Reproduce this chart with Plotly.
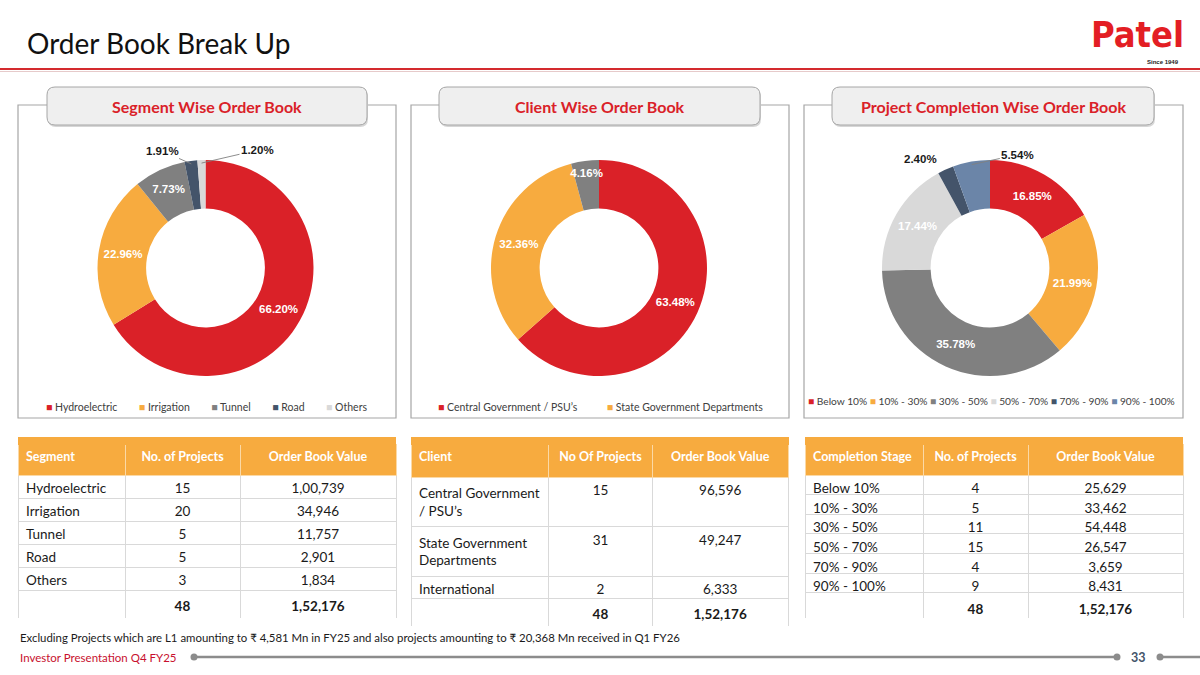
import math
import plotly.graph_objects as go

W, H = 1200, 675


def px(x):
    return x / W


def py(y):
    return 1 - y / H


# ---------------- data ----------------
seg_labels = ["Hydroelectric", "Irrigation", "Tunnel", "Road", "Others"]
seg_share = [66.20, 22.96, 7.73, 1.91, 1.20]
seg_projects = [15, 20, 5, 5, 3]
seg_value = [100739, 34946, 11757, 2901, 1834]
seg_total = [48, 152176]

client_labels = ["Central Government / PSU’s", "State Government Departments", "International"]
client_table_labels = ["Central Government<br>/ PSU’s", "State Government<br>Departments", "International"]
client_share = [63.48, 32.36, 4.16]
client_projects = [15, 31, 2]
client_value = [96596, 49247, 6333]
client_total = [48, 152176]

comp_labels = ["Below 10%", "10% - 30%", "30% - 50%", "50% - 70%", "70% - 90%", "90% - 100%"]
comp_share = [16.85, 21.99, 35.78, 17.44, 2.40, 5.54]
comp_projects = [4, 5, 11, 15, 4, 9]
comp_value = [25629, 33462, 54448, 26547, 3659, 8431]
comp_total = [48, 152176]

# ---------------- styles ----------------
RED = "#DA2128"
ORANGE = "#F7AB3F"
GREY = "#808080"
NAVY = "#44546A"
LGREY = "#D9D9D9"
SLATE = "#6B85A8"
FONT = "Lato, 'Open Sans', sans-serif"
LBL_FONT = "'Liberation Sans', Arial, sans-serif"

seg_colors = [RED, ORANGE, GREY, NAVY, LGREY]
client_colors = [RED, ORANGE, GREY]
comp_colors = [RED, ORANGE, GREY, LGREY, NAVY, SLATE]


def inr(n):
    s = str(n)
    if len(s) <= 3:
        return s
    last3, rest = s[-3:], s[:-3]
    groups = []
    while len(rest) > 2:
        groups.insert(0, rest[-2:])
        rest = rest[:-2]
    if rest:
        groups.insert(0, rest)
    return ",".join(groups + [last3])


fig = go.Figure()
shapes = []
annotations = []

CY0, CY1 = 160, 376
CY = (CY0 + CY1) / 2
R = 108


def donut(labels, share, colors, positions, cx):
    return go.Pie(
        labels=labels, values=share, hole=0.55, sort=False,
        direction="clockwise", rotation=0,
        marker=dict(colors=colors, line=dict(width=0)),
        texttemplate="%{percent:.2%}", textposition=positions,
        insidetextorientation="horizontal",
        insidetextfont=dict(family=LBL_FONT, size=11.5, color="white", weight="bold"),
        outsidetextfont=dict(family=LBL_FONT, size=11.5, color="#1a1a1a", weight="bold"),
        domain=dict(x=[px(cx - R), px(cx + R)], y=[py(CY1), py(CY0)]),
        showlegend=False, hoverinfo="label+percent",
    )


def outside_labels(share, cx, offsets):
    """Labels for thin slices, anchored on the slice's mid-angle computed from the data."""
    total = sum(share)
    cum = 0.0
    for i, s in enumerate(share):
        mid = (cum + s / 2) / total * 2 * math.pi
        cum += s
        if i not in offsets:
            continue
        dx, dy, leader = offsets[i]
        r = R - 3
        x = cx + r * math.sin(mid)
        y = CY - r * math.cos(mid)
        annotations.append(dict(
            x=px(x), y=py(y), xref="paper", yref="paper",
            text=f"{s / total * 100:.2f}%", showarrow=True, arrowhead=0,
            arrowwidth=0.9, standoff=0,
            arrowcolor="#808080" if leader else "rgba(0,0,0,0)",
            ax=dx, ay=dy,
            font=dict(family=LBL_FONT, size=11.5, color="#1a1a1a", weight="bold")))


fig.add_trace(donut(seg_labels, seg_share, seg_colors,
                    ["inside", "inside", "inside", "none", "none"], 205.5))
fig.add_trace(donut(client_labels, client_share, client_colors,
                    ["inside", "inside", "inside"], 599))
fig.add_trace(donut(comp_labels, comp_share, comp_colors,
                    ["inside"] * 4 + ["none", "none"], 990))

outside_labels(seg_share, 205.5, {3: (-29, -13, True), 4: (56, -13, True)})
outside_labels(comp_share, 990, {4: (-26, -13, False), 5: (46, -10, True)})

# ---------------- tables ----------------
BODY = dict(family=FONT, size=13.5, color="#1a1a1a")
HEAD = dict(family=FONT, size=12.5, color="white", weight="bold")


def table(x0, x1, bottom, widths, head, col1, projects, values, total, head_h, cell_h):
    c2 = [str(p) for p in projects] + [f"<b>{total[0]}</b>"]
    c3 = [inr(v) for v in values] + [f"<b>{inr(total[1])}</b>"]
    # top strip of the orange header band (text in the table header sits centred below it)
    shapes.append(dict(type="rect", xref="paper", yref="paper", layer="above",
                       x0=px(x0), x1=px(x1), y0=py(445), y1=py(437),
                       fillcolor=ORANGE, line=dict(width=0)))
    return go.Table(
        domain=dict(x=[px(x0), px(x1)], y=[py(bottom), py(444)]),
        columnwidth=widths,
        header=dict(values=head, fill_color=ORANGE, line=dict(color="#FBD9A6", width=1),
                    align=["left", "center", "center"], font=HEAD, height=head_h),
        cells=dict(values=[col1 + [""], c2, c3], fill_color="white",
                   line=dict(color="#D9D9D9", width=1),
                   align=["left", "center", "center"], font=BODY, height=cell_h),
    )


fig.add_trace(table(18, 396, 618, [107, 115, 156],
                    ["Segment", "No. of Projects", "Order Book Value"],
                    seg_labels, seg_projects, seg_value, seg_total, 31, 23))
fig.add_trace(table(411, 789, 627, [138, 104, 136],
                    ["Client", "No Of Projects", "Order Book Value"],
                    client_table_labels, client_projects, client_value, client_total, 33, 22))
fig.add_trace(table(805, 1183, 618, [118, 105, 155],
                    ["Completion Stage", "No. of Projects", "Order Book Value"],
                    comp_labels, comp_projects, comp_value, comp_total, 31, 19.6))


# ---------------- decorations ----------------
def line(x0, y0, x1, y1, color, width):
    shapes.append(dict(type="line", xref="paper", yref="paper",
                       x0=px(x0), y0=py(y0), x1=px(x1), y1=py(y1),
                       line=dict(color=color, width=width)))


def dot(x, y, r, color):
    shapes.append(dict(type="circle", xref="paper", yref="paper",
                       x0=px(x - r), x1=px(x + r), y0=py(y + r), y1=py(y - r),
                       fillcolor=color, line=dict(width=0)))


def rounded(x0, y0, x1, y1, r, fill, lc, lw):
    p = (f"M{px(x0 + r)},{py(y0)} L{px(x1 - r)},{py(y0)} Q{px(x1)},{py(y0)} {px(x1)},{py(y0 + r)} "
         f"L{px(x1)},{py(y1 - r)} Q{px(x1)},{py(y1)} {px(x1 - r)},{py(y1)} "
         f"L{px(x0 + r)},{py(y1)} Q{px(x0)},{py(y1)} {px(x0)},{py(y1 - r)} "
         f"L{px(x0)},{py(y0 + r)} Q{px(x0)},{py(y0)} {px(x0 + r)},{py(y0)} Z")
    shapes.append(dict(type="path", xref="paper", yref="paper", path=p,
                       fillcolor=fill, line=dict(color=lc, width=lw)))


def text(x, y, s, size, color, xanchor="left", family=FONT, weight="normal"):
    annotations.append(dict(x=px(x), y=py(y), xref="paper", yref="paper", text=s,
                            showarrow=False, xanchor=xanchor, yanchor="middle",
                            font=dict(family=family, size=size, color=color, weight=weight)))


# title + header line
text(25, 43, "Order Book Break Up", 28, "#111111")
line(0, 69, 1200, 69, "#D42A2E", 2)
line(0, 71.5, 1200, 71.5, "#E6CACA", 1)

# logo
text(1137, 34, "Patel", 36, "#E31E24", xanchor="center",
     family="'Liberation Sans Narrow', 'DejaVu Sans Condensed', Lato", weight="bold")
text(1181, 62, "Since 1949", 6, "#222222", xanchor="right", family=LBL_FONT, weight="bold")

# panels
panels = [(18, 396, 47, 367, "Segment Wise Order Book"),
          (411, 789, 439, 760, "Client Wise Order Book"),
          (804, 1183, 832, 1154, "Project Completion Wise Order Book")]
for p0, p1, h0, h1, title in panels:
    shapes.append(dict(type="rect", xref="paper", yref="paper",
                       x0=px(p0), x1=px(p1), y0=py(418), y1=py(105),
                       line=dict(color="#A6A6A6", width=1.2), fillcolor="rgba(0,0,0,0)"))
    rounded(h0 + 1, 89, h1 + 1, 127, 8, "#D6D6D6", "rgba(0,0,0,0)", 0)
    rounded(h0, 87, h1, 125, 8, "#EFEFEF", "#A6A6A6", 1)
    text((h0 + h1) / 2, 106, title, 16, RED, xanchor="center", weight="bold")


# legends
def legend_text(labels, colors, gap):
    sep = "\u00a0" * gap
    return sep.join(f"<span style='color:{c}'>■</span>\u00a0{l}" for l, c in zip(labels, colors))


text(206, 407, legend_text(seg_labels, seg_colors, 8), 10.5, "#404040", xanchor="center")
text(600, 407, legend_text(client_labels[:2], client_colors[:2], 11), 10.5, "#404040", xanchor="center")
text(991, 401, legend_text(comp_labels, comp_colors, 1), 10.2, "#404040", xanchor="center")

# footer
text(18, 637, "Excluding Projects which are L1 amounting to ₹ 4,581 Mn in FY25 and also projects "
     "amounting to ₹ 20,368 Mn received in Q1 FY26", 11.4, "#1a1a1a")
text(18, 657, "Investor Presentation Q4 FY25", 11.5, "#C8102E")
line(194, 657, 1117, 657, "#8C8C8C", 2.5)
dot(194, 657, 3.5, "#8C8C8C")
dot(1117, 657, 3.5, "#8C8C8C")
text(1138, 657, "33", 12.5, "#44546A", xanchor="center", weight="bold")
line(1160, 657, 1200, 657, "#8C8C8C", 2.5)
dot(1160, 657, 3.5, "#8C8C8C")

fig.update_layout(
    width=W, height=H, margin=dict(l=0, r=0, t=0, b=0),
    paper_bgcolor="white", plot_bgcolor="white",
    shapes=shapes, annotations=annotations,
    uniformtext=dict(minsize=11.5, mode="show"),
    font=dict(family=FONT),
)

fig.write_html("out.html", config={"displayModeBar": False},
               post_script="document.body.style.margin='0px';")
